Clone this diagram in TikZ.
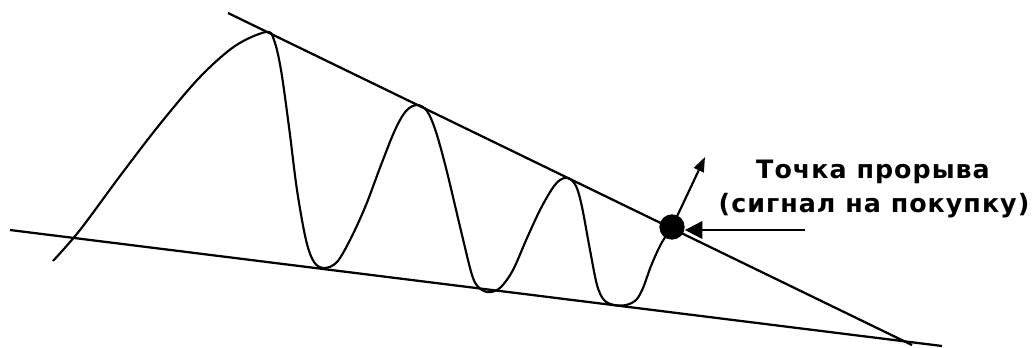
\documentclass[tikz,border=0pt]{standalone}
\usepackage{fontspec}
\newfontfamily\lblfont[LetterSpace=4]{DejaVu Sans}
\usetikzlibrary{arrows.meta}
\begin{document}
\begin{tikzpicture}[x=0.75pt,y=-0.75pt,
  trend/.style={line width=1.7pt},
  price/.style={line width=1.6pt,line join=round},
  lbl/.style={font=\lblfont\bfseries\fontsize{19}{21}\selectfont,inner sep=0pt,anchor=base},
  breakdot/.style={circle,fill=black,minimum size=19pt,inner sep=0pt}]
\useasboundingbox (0,0) rectangle (1034,347);
% trend lines
\coordinate (u1) at (228,13);
\coordinate (u2) at (912,345);
\coordinate (l1) at (10,230);
\coordinate (l2) at (942,346);
\draw[trend] (u1) -- (u2);
\draw[trend] (l1) -- (l2);
% price curve
\draw[price] plot[smooth,tension=0.55] coordinates {
 (53,261) (80,230) (120,176) (160,124) (200,77) (235,46) (266,32)
 (274,40) (281,70) (289,127) (297,190) (306,240) (314,262) (324,268)
 (337,262) (351,238) (366,205) (381,165) (395,130) (406,111) (417,105)
 (427,111) (436,132) (447,172) (462,235) (473,278) (482,290) (491,292)
 (501,287) (513,270) (527,238) (540,210) (552,189) (560,180) (568,178)
 (576,186) (582,207) (590,250) (597,285) (604,300) (614,305) (626,305)
 (636,300) (643,288) (651,266) (661,244) (672,227)};
% breakout point
\node[breakdot] (bp) at (672,227) {};
\coordinate (tip) at (705,157);
\coordinate (ptr) at (805,230);
\draw[price,-{Triangle[length=11pt,width=8pt]}] (bp.center) -- (tip);
\draw[trend,-{Triangle[length=13pt,width=13pt]}] (ptr) -- (bp.east |- ptr);
% label
\node[lbl] (t1) at (873,178) {Точка прорыва};
\node[lbl] (t2) at (874,212) {(сигнал на покупку)};
\end{tikzpicture}
\end{document}
